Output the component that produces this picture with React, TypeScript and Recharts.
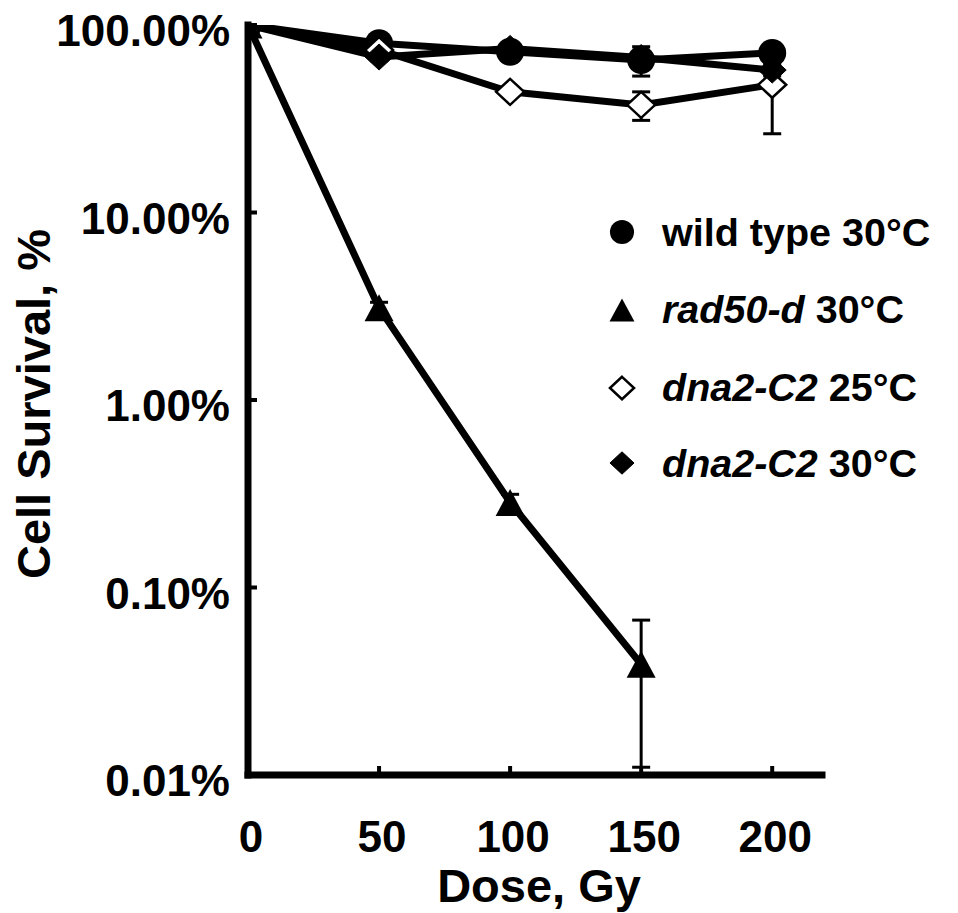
import { ErrorBar, Label, Legend, Line, LineChart, XAxis, YAxis } from 'recharts'

const FONT = '"Liberation Sans", Arial, Helvetica, sans-serif'

// gamma dose, Gy
const DOSES = [0, 50, 100, 150, 200]
const X_TICKS = [0, 50, 100, 150, 200]
const Y_TICKS = [0.01, 0.1, 1, 10, 100]

// survival in %, error bars (+/-) in %
const WILD_TYPE = [100, 80, 72, 65, 71]
const WILD_TYPE_ERR = [0, 3, 5, 11.6, 4]
const RAD50 = [100, 3.1, 0.284, 0.039, null]
const RAD50_ERR = [0, 0.22, 0.03, 0.028, null]
const DNA2_25 = [100, 73.6, 44, 37.5, 48]
const DNA2_25_ERR = [0, 3, 2, 6.5, 21.7]
const DNA2_30 = [100, 67.5, 75, 67, 57.5]
const DNA2_30_ERR = [0, 3, 4, 5, 4]

type Shape = 'circle' | 'triangle' | 'diamondOpen' | 'diamond'

const SERIES: {
  key: string
  strain: string
  italic: boolean
  temp: string
  shape: Shape
  values: (number | null)[]
  errors: (number | null)[]
}[] = [
  { key: 'wt', strain: 'wild type', italic: false, temp: '30°C', shape: 'circle', values: WILD_TYPE, errors: WILD_TYPE_ERR },
  { key: 'rad50', strain: 'rad50-d', italic: true, temp: '30°C', shape: 'triangle', values: RAD50, errors: RAD50_ERR },
  { key: 'dna25', strain: 'dna2-C2', italic: true, temp: '25°C', shape: 'diamondOpen', values: DNA2_25, errors: DNA2_25_ERR },
  { key: 'dna30', strain: 'dna2-C2', italic: true, temp: '30°C', shape: 'diamond', values: DNA2_30, errors: DNA2_30_ERR },
]

const data = DOSES.map((dose, i) => {
  const row: Record<string, number> = { dose }
  SERIES.forEach((s) => {
    const v = s.values[i]
    const e = s.errors[i]
    if (v != null) row[s.key] = v
    if (e != null) row[s.key + 'Err'] = e
  })
  return row
})

function Marker({ shape, cx, cy, k = 1 }: { shape: Shape; cx?: number; cy?: number; k?: number }) {
  if (cx == null || cy == null || isNaN(cx) || isNaN(cy)) return null
  if (shape === 'circle') return <circle cx={cx} cy={cy} r={14 * k} fill="#000" />
  if (shape === 'triangle') {
    const w = 14.5 * k
    const h = 27 * k
    return (
      <polygon
        points={`${cx},${cy - h / 2} ${cx + w},${cy + h / 2} ${cx - w},${cy + h / 2}`}
        fill="#000"
      />
    )
  }
  const w = 14 * k
  const h = 13 * k
  const open = shape === 'diamondOpen'
  return (
    <polygon
      points={`${cx},${cy - h} ${cx + w},${cy} ${cx},${cy + h} ${cx - w},${cy}`}
      fill={open ? '#fff' : '#000'}
      stroke="#000"
      strokeWidth={open ? 2.5 : 1}
    />
  )
}

const XTick = (props: any) => {
  const { x, y, payload } = props
  return (
    <g>
      <line x1={x} x2={x} y1={y} y2={y - 9} stroke="#000" strokeWidth={4} />
      <text x={x + 3} y={y + 77} textAnchor="middle" fontFamily={FONT} fontWeight="bold" fontSize={44} fill="#000">
        {payload.value}
      </text>
    </g>
  )
}

const YTick = (props: any) => {
  const { x, y, payload } = props
  return (
    <g>
      <line x1={x} x2={x + 9} y1={y} y2={y} stroke="#000" strokeWidth={4} />
      <text x={x - 18} y={y + 21} textAnchor="end" fontFamily={FONT} fontWeight="bold" fontSize={44} fill="#000">
        {payload.value.toFixed(2) + '%'}
      </text>
    </g>
  )
}

const ROW_Y = [32, 110, 188, 263]
const ROW_BASE = [46, 123, 201, 277]

const LegendBox = () => (
  <svg width={350} height={290} style={{ overflow: 'visible' }}>
    {SERIES.map((s, i) => (
      <g key={s.key}>
        <Marker shape={s.shape} cx={22} cy={ROW_Y[i]} k={0.86} />
        <text x={62} y={ROW_BASE[i]} fontFamily={FONT} fontWeight="bold" fontSize={39.5} fill="#000">
          <tspan fontStyle={s.italic ? 'italic' : 'normal'}>{s.strain}</tspan>
          <tspan> {s.temp}</tspan>
        </text>
      </g>
    ))}
  </svg>
)

export default function App() {
  return (
    <LineChart
      width={950}
      height={905}
      data={data}
      margin={{ top: 17, right: 136, bottom: 0, left: 0 }}
    >
      <XAxis
        type="number"
        dataKey="dose"
        domain={[0, 219]}
        allowDataOverflow
        ticks={X_TICKS}
        interval={0}
        height={138}
        tickSize={0}
        tickMargin={0}
        tickLine={false}
        axisLine={{ stroke: '#000', strokeWidth: 7, strokeLinecap: 'square' }}
        tick={<XTick />}
      >
        <Label
          content={() => (
            <text x={531} y={894} textAnchor="middle" fontFamily={FONT} fontWeight="bold" fontSize={47} fill="#000">
              Dose, Gy
            </text>
          )}
        />
      </XAxis>
      <YAxis
        type="number"
        scale="log"
        domain={[0.01, 100]}
        allowDataOverflow
        ticks={Y_TICKS}
        interval={0}
        width={240}
        tickSize={0}
        tickMargin={0}
        tickLine={false}
        axisLine={{ stroke: '#000', strokeWidth: 7, strokeLinecap: 'square' }}
        tick={<YTick />}
      >
        <Label
          content={() => (
            <text
              transform="translate(42,396) rotate(-90)"
              textAnchor="middle"
              fontFamily={FONT}
              fontWeight="bold"
              fontSize={47}
              fill="#000"
            >
              Cell Survival, %
            </text>
          )}
        />
      </YAxis>
      <Legend
        layout="vertical"
        align="center"
        verticalAlign="middle"
        wrapperStyle={{ left: 592, top: 192, width: 350, height: 290 }}
        content={() => <LegendBox />}
      />
      {SERIES.map((s) => (
        <Line
          key={s.key}
          dataKey={s.key}
          stroke="#000"
          strokeWidth={7}
          isAnimationActive={false}
          dot={(p: any) => <Marker key={`${s.key}-${p.index}`} shape={s.shape} cx={p.cx} cy={p.cy} />}
          activeDot={false}
        >
          <ErrorBar dataKey={s.key + 'Err'} direction="y" width={9} strokeWidth={3} stroke="#000" />
        </Line>
      ))}
    </LineChart>
  )
}
